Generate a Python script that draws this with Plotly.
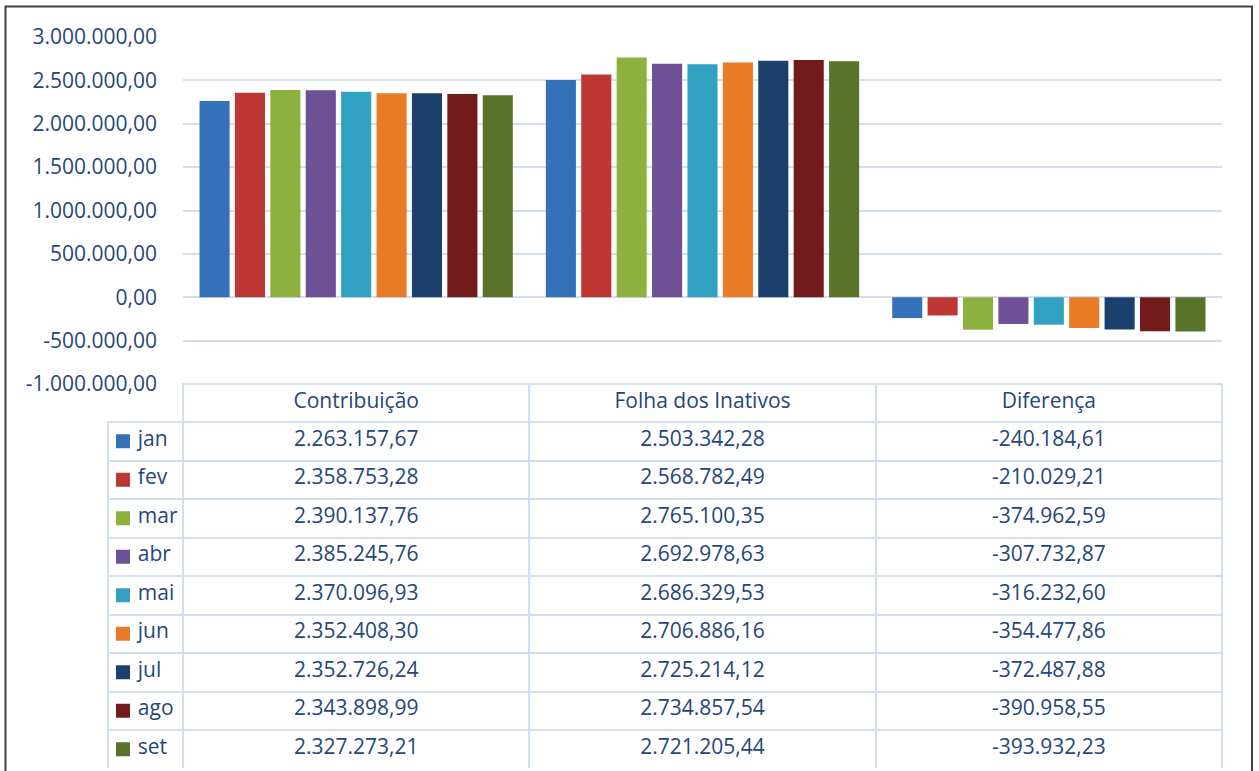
import plotly.graph_objects as go

W, H = 1259, 771

meses = ["jan", "fev", "mar", "abr", "mai", "jun", "jul", "ago", "set"]
categorias = ["Contribuição", "Folha dos Inativos", "Diferença"]

contribuicao = [2263157.67, 2358753.28, 2390137.76, 2385245.76, 2370096.93,
                2352408.30, 2352726.24, 2343898.99, 2327273.21]
folha_inativos = [2503342.28, 2568782.49, 2765100.35, 2692978.63, 2686329.53,
                  2706886.16, 2725214.12, 2734857.54, 2721205.44]
diferenca = [-240184.61, -210029.21, -374962.59, -307732.87, -316232.60,
             -354477.86, -372487.88, -390958.55, -393932.23]

tick_vals = [-1000000, -500000, 0, 500000, 1000000, 1500000, 2000000, 2500000, 3000000]
tick_text = ["-1.000.000,00", "-500.000,00", "0,00", "500.000,00", "1.000.000,00",
             "1.500.000,00", "2.000.000,00", "2.500.000,00", "3.000.000,00"]

cores = ["#3571B9", "#BD3834", "#8DB13E", "#6E5097", "#30A1C1",
         "#E97B26", "#1C406C", "#731A1A", "#59742A"]

TXT = "#24477A"
GRID = "#D3DFEF"
FONT = "Open Sans"
FS = 21


def br(v):
    s = f"{v:,.2f}"
    return s.replace(",", "X").replace(".", ",").replace("X", ".")


def px_x(p):
    return p / W


def px_y(p):
    return 1 - p / H


fig = go.Figure()

for i, m in enumerate(meses):
    fig.add_trace(
        go.Bar(
            x=categorias,
            y=[contribuicao[i], folha_inativos[i], diferenca[i]],
            name=m,
            marker=dict(color=cores[i], line=dict(width=0)),
            showlegend=False,
        )
    )

# data table under the chart
nb = "\u00a0"
fig.add_trace(
    go.Table(
        domain=dict(x=[px_x(108), px_x(1222)], y=[px_y(768.5), px_y(384)]),
        columnwidth=[75, 346, 346, 346],
        header=dict(
            values=[""] + categorias,
            height=38,
            fill_color="rgba(0,0,0,0)",
            line=dict(color=["rgba(0,0,0,0)", GRID, GRID, GRID], width=2),
            font=dict(family=FONT, size=FS, color=TXT),
            align=["left", "center", "center", "center"],
        ),
        cells=dict(
            values=[[nb * 4 + m for m in meses],
                    [br(v) for v in contribuicao],
                    [br(v) for v in folha_inativos],
                    [br(v) for v in diferenca]],
            height=38.5,
            fill_color="rgba(0,0,0,0)",
            line=dict(color=GRID, width=2),
            font=dict(family=FONT, size=FS, color=TXT),
            align=["left", "center", "center", "center"],
        ),
    )
)

# legend keys in the first table column
fig.add_trace(
    go.Scatter(
        x=[0.2] * len(meses),
        y=meses,
        xaxis="x2",
        yaxis="y2",
        mode="markers",
        marker=dict(symbol="square", size=14, color=cores, line=dict(width=0)),
        showlegend=False,
        hoverinfo="skip",
    )
)

fig.update_layout(
    width=W,
    height=H,
    margin=dict(l=0, r=0, t=0, b=0),
    paper_bgcolor="white",
    plot_bgcolor="rgba(0,0,0,0)",
    separators=",.",
    barmode="group",
    bargap=0.08,
    bargroupgap=0.15,
    font=dict(family=FONT, size=FS, color=TXT),
    xaxis=dict(
        domain=[px_x(183), px_x(1222)],
        showticklabels=False,
        showline=False,
        showgrid=False,
        automargin=False,
    ),
    yaxis=dict(
        domain=[px_y(384), px_y(37)],
        range=[-1000000, 3000000],
        tickvals=tick_vals,
        ticktext=tick_text,
        tickfont=dict(family=FONT, size=FS, color=TXT),
        ticklabelstandoff=25,
        gridcolor=GRID,
        gridwidth=2,
        zeroline=False,
        showline=False,
        automargin=False,
    ),
    xaxis2=dict(
        domain=[px_x(108), px_x(183)],
        range=[0, 1],
        visible=False,
        anchor="y2",
    ),
    yaxis2=dict(
        domain=[px_y(768.5), px_y(422)],
        range=[8.5, -0.5],
        categoryorder="array",
        categoryarray=meses,
        visible=False,
        anchor="x2",
    ),
    shapes=[
        dict(type="rect", xref="paper", yref="paper",
             x0=px_x(5.5), x1=px_x(1252), y0=-0.02, y1=px_y(6.5),
             line=dict(color="#404040", width=2)),
    ],
)

fig.write_html(
    "out.html",
    config={"displayModeBar": False},
    post_script="document.body.style.margin='0';",
)
